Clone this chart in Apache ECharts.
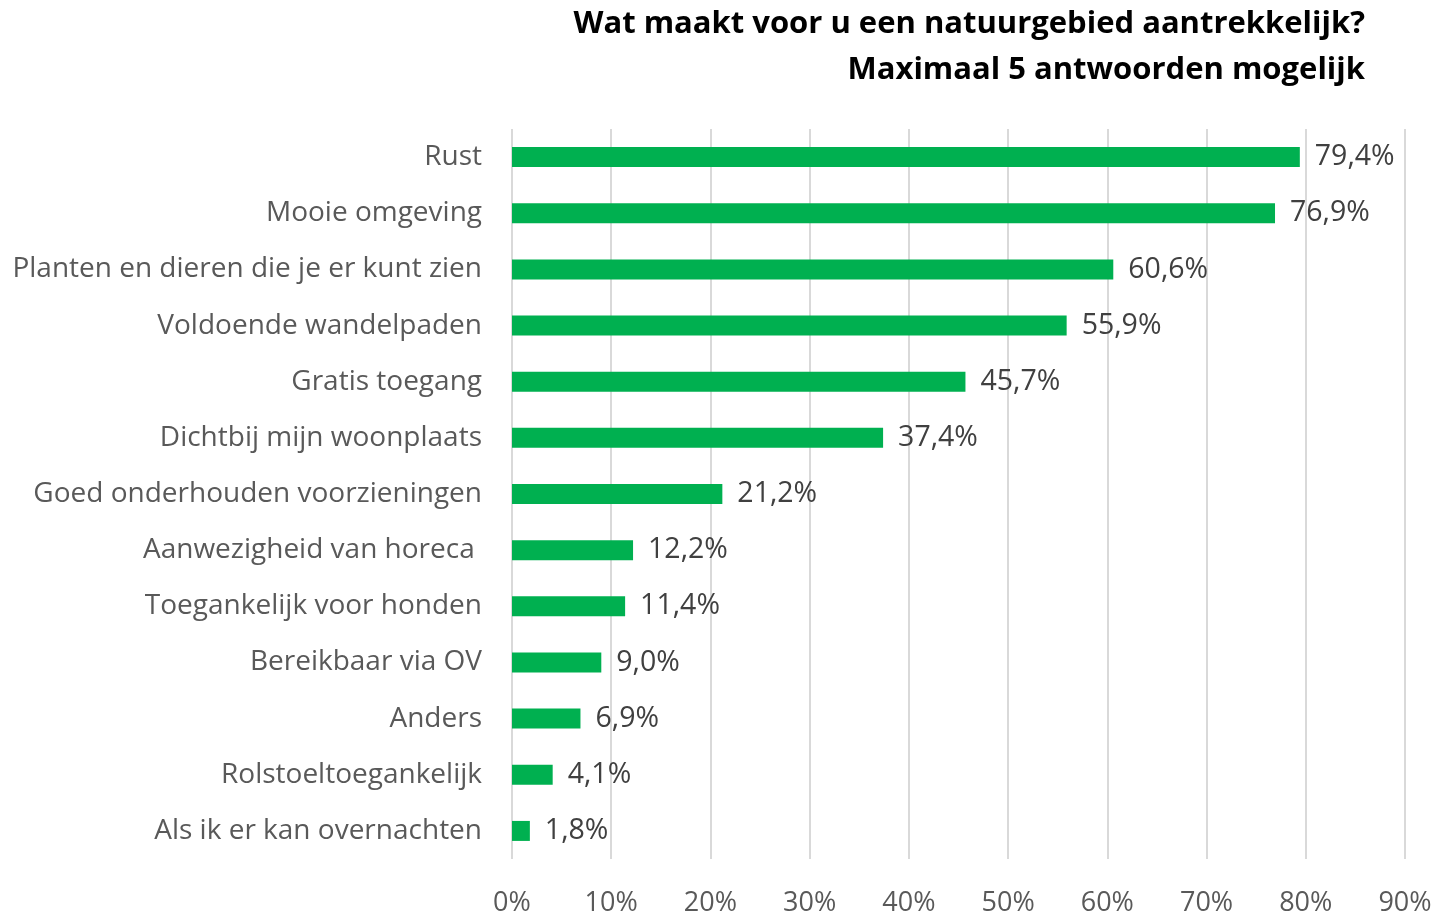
<!DOCTYPE html>
<html>
<head>
<meta charset="utf-8">
<script src="https://cdn.jsdelivr.net/npm/echarts@6/dist/echarts.min.js"></script>
<style>
  html, body { margin: 0; padding: 0; background: #fff; }
  #chart { width: 1439px; height: 917px; }
</style>
</head>
<body>
<div id="chart"></div>
<script>
// categories top to bottom
const categories = [
  'Rust',
  'Mooie omgeving',
  'Planten en dieren die je er kunt zien',
  'Voldoende wandelpaden',
  'Gratis toegang',
  'Dichtbij mijn woonplaats',
  'Goed onderhouden voorzieningen',
  'Aanwezigheid van horeca ',
  'Toegankelijk voor honden',
  'Bereikbaar via OV',
  'Anders',
  'Rolstoeltoegankelijk',
  'Als ik er kan overnachten'
]
const values = [79.4, 76.9, 60.6, 55.9, 45.7, 37.4, 21.2, 12.2, 11.4, 9.0, 6.9, 4.1, 1.8]

const fontFamily = '"Open Sans", sans-serif'
const chart = echarts.init(document.getElementById('chart'))

chart.setOption({
  animation: false,
  title: {
    text: 'Wat maakt voor u een natuurgebied aantrekkelijk?\nMaximaal 5 antwoorden mogelijk',
    left: 1360,
    top: -4,
    textAlign: 'right',
    textStyle: {
      fontFamily,
      fontSize: 31,
      fontWeight: 'bold',
      color: '#000',
      lineHeight: 46
    }
  },
  grid: { left: 512, right: 34, top: 129, bottom: 56 },
  xAxis: {
    type: 'value',
    min: 0,
    max: 90,
    interval: 10,
    axisLine: { show: false },
    axisTick: { show: false },
    splitLine: { lineStyle: { color: '#d9d9d9', width: 2 } },
    axisLabel: {
      formatter: '{value}%',
      fontFamily,
      fontSize: 27,
      color: '#595959',
      margin: 31
    }
  },
  yAxis: {
    type: 'category',
    inverse: true,
    data: categories,
    axisLine: { show: false },
    axisTick: { show: false },
    axisLabel: {
      fontFamily,
      fontSize: 28,
      color: '#595959',
      margin: 30,
      padding: [10, 0, 0, 0]
    }
  },
  series: [{
    type: 'bar',
    data: values,
    barWidth: 20,
    itemStyle: { color: '#00b050' },
    label: {
      show: true,
      position: 'right',
      distance: 15,
      formatter: p => p.value.toFixed(1).replace('.', ',') + '%',
      fontFamily,
      fontSize: 28.5,
      color: '#404040',
      padding: [10, 0, 0, 0]
    }
  }]
})
</script>
</body>
</html>
